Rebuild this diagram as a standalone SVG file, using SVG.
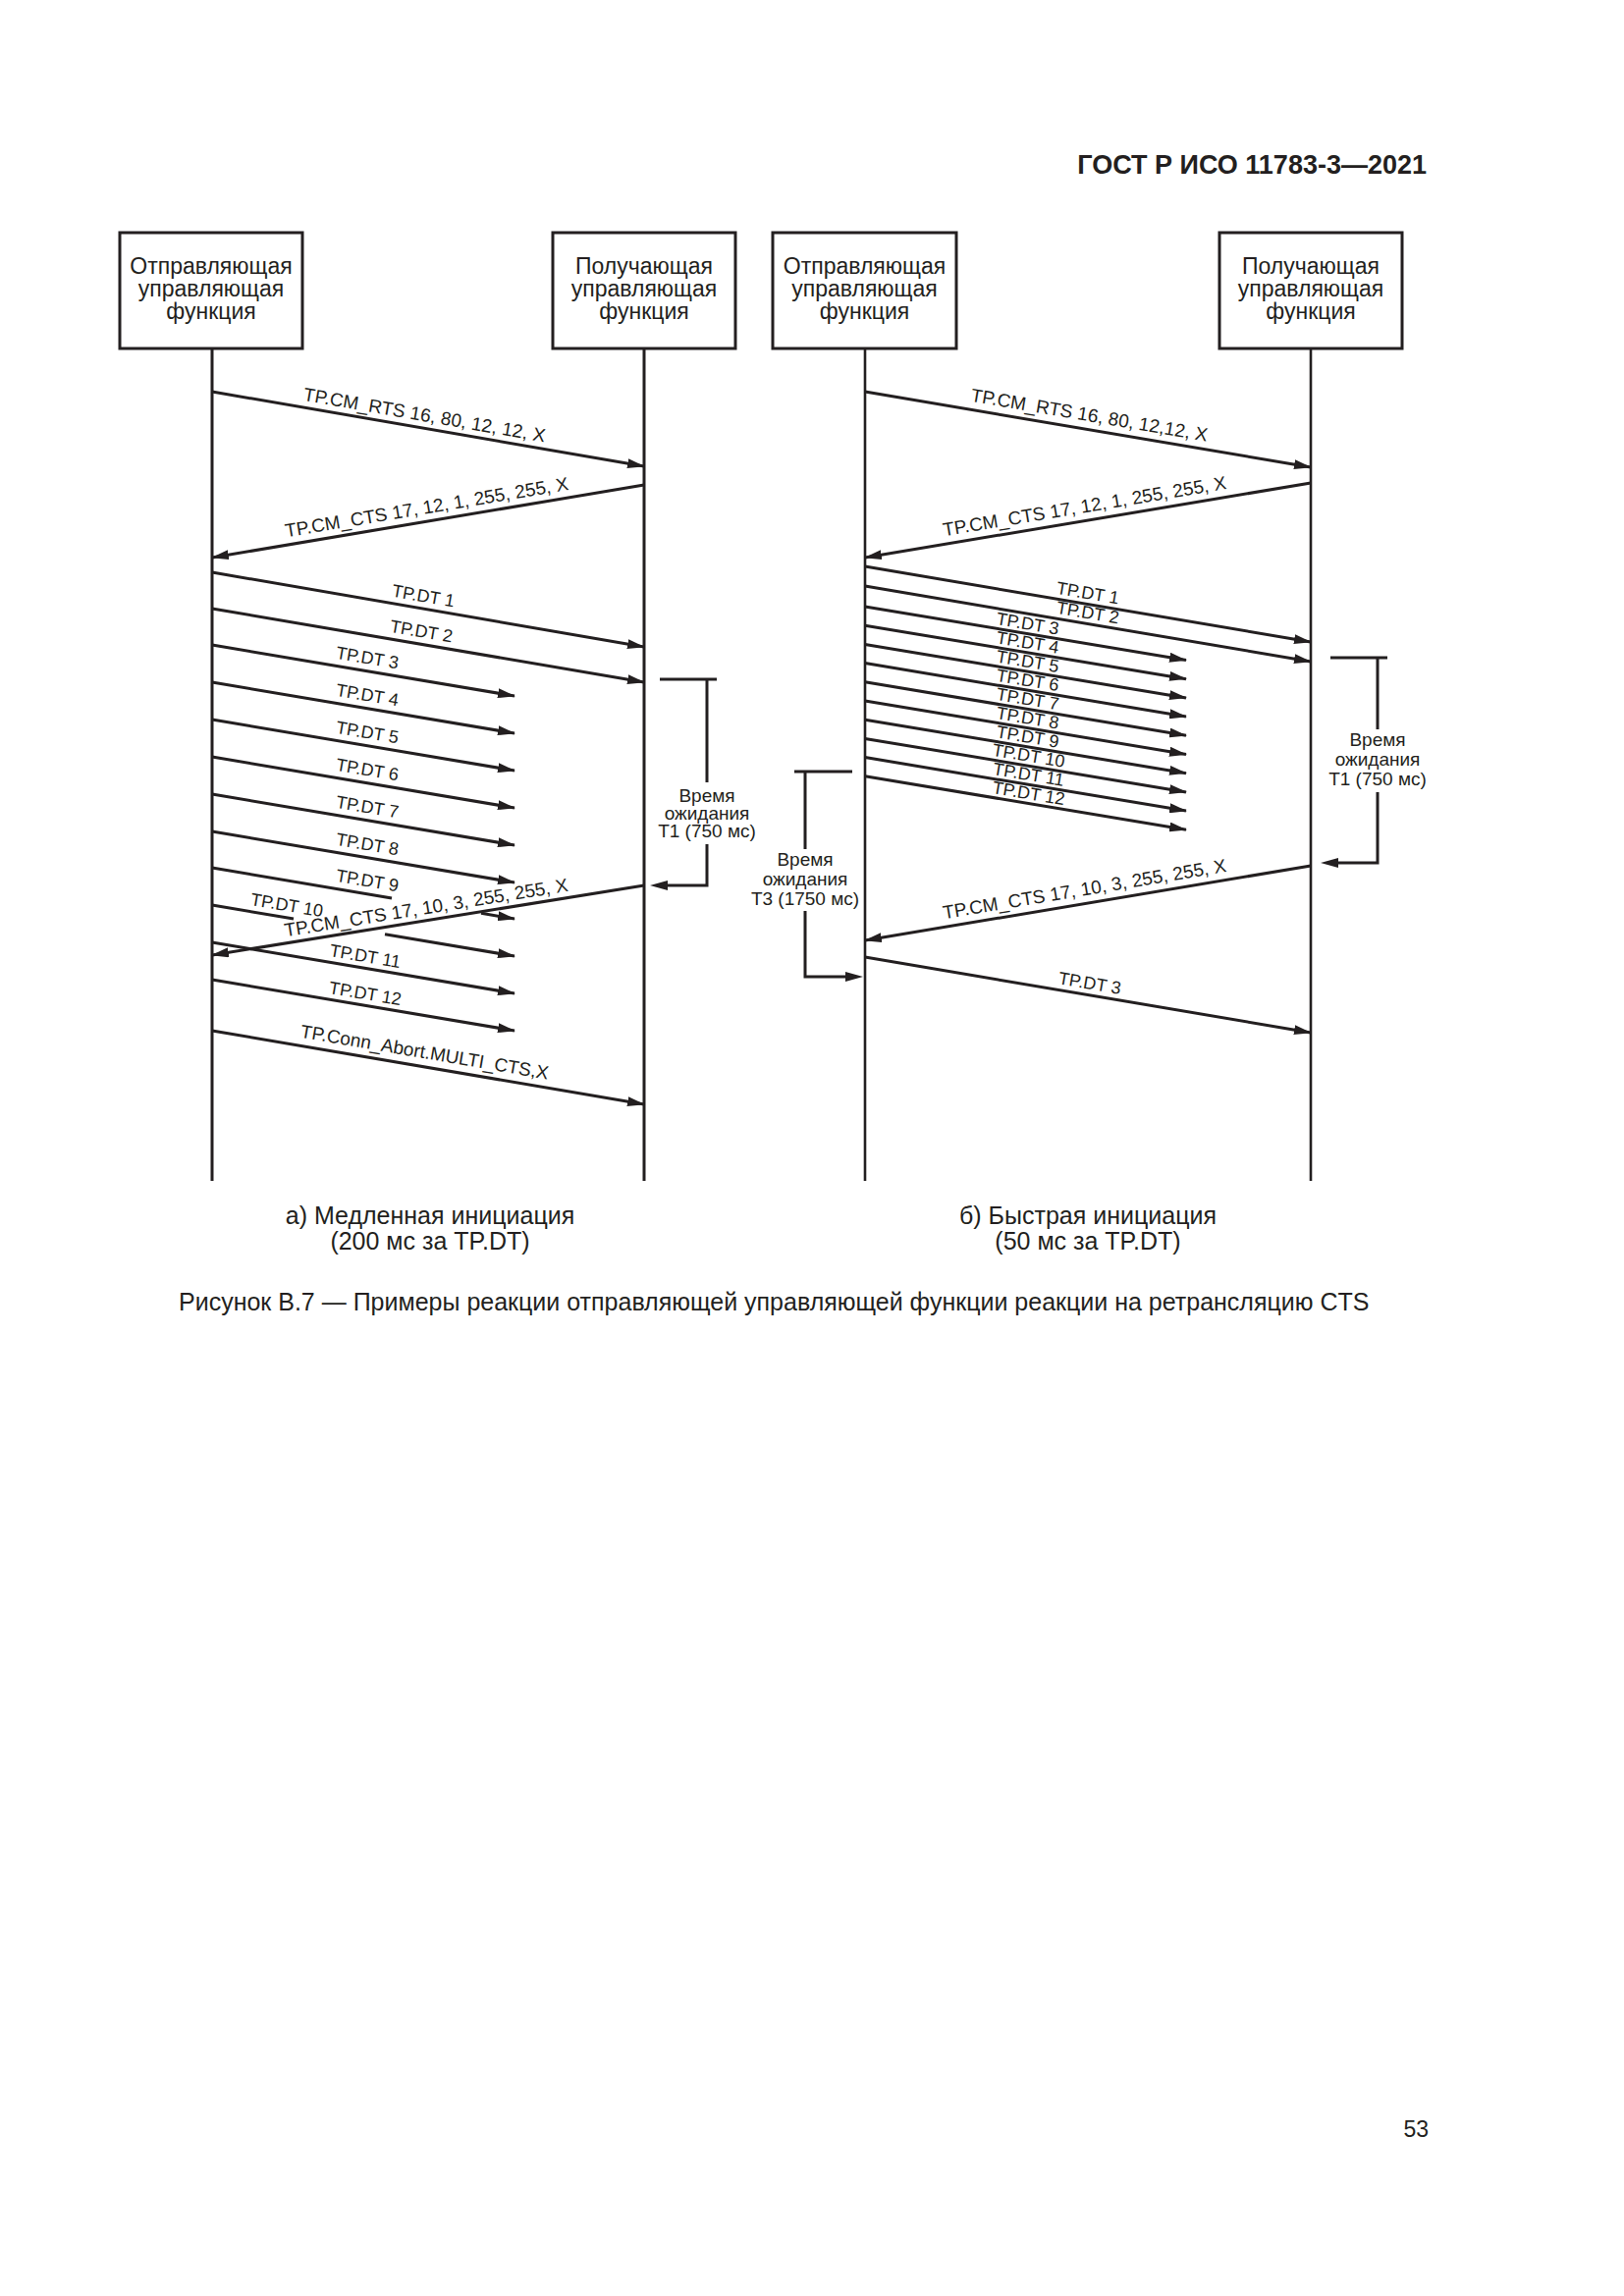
<svg xmlns="http://www.w3.org/2000/svg" width="1654" height="2339" viewBox="0 0 1654 2339">
<style>
.box{fill:#fff;stroke:#231f20;stroke-width:3}
.life{stroke:#231f20;stroke-width:3}
.lifeb{stroke:#231f20;stroke-width:2.6}
.msg{stroke:#231f20;stroke-width:3;fill:none}
.arr{marker-end:url(#ah)}
.br{stroke:#231f20;stroke-width:3;fill:none}
text{font-family:"Liberation Sans",Arial,sans-serif;fill:#231f20}
.nt{font-size:23px;text-anchor:middle}
.lbl{font-size:19px;text-anchor:middle}
.dt{font-size:18px;text-anchor:middle}
.bt{font-size:19px;text-anchor:middle}
.cap{font-size:25px;text-anchor:middle}
</style>
<defs>
<marker id="ah" viewBox="0 0 18 10" refX="17" refY="5" markerWidth="18" markerHeight="10" orient="auto" markerUnits="userSpaceOnUse"><path d="M0,0 L18,5 L0,10 z" fill="#231f20"/></marker>
</defs>
<rect width="1654" height="2339" fill="#fff"/>
<text x="1453" y="177" style="font-size:27px;font-weight:bold;text-anchor:end">ГОСТ Р ИСО 11783-3—2021</text>

<!-- a) slow -->
<g id="slow-sender">
<line class="life" x1="216" y1="355" x2="216" y2="1203"/>
<rect class="box" x="122" y="237" width="186" height="118"/>
<text class="nt" x="215" y="279">Отправляющая</text>
<text class="nt" x="215" y="302">управляющая</text>
<text class="nt" x="215" y="325">функция</text>
</g>
<g id="slow-receiver">
<line class="life" x1="656" y1="355" x2="656" y2="1203"/>
<rect class="box" x="563" y="237" width="186" height="118"/>
<text class="nt" x="656" y="279">Получающая</text>
<text class="nt" x="656" y="302">управляющая</text>
<text class="nt" x="656" y="325">функция</text>
</g>
<g id="slow-t1">
<path class="br" d="M672,692 H730 M720,692 V797 M720,860 V902 H680"/>
<path d="M662,902 L680,897 L680,907 z" fill="#231f20"/>
<text class="bt" x="720" y="817">Время</text>
<text class="bt" x="720" y="835">ожидания</text>
<text class="bt" x="720" y="853">Т1 (750 мс)</text>
</g>
<g id="slow-connectors">
<line class="msg arr" x1="216" y1="399" x2="656" y2="475"/>
<text class="lbl" x="430" y="429" transform="rotate(9.8 430 436)">TP.CM_RTS 16, 80, 12, 12, X</text>
<line class="msg arr" x1="656" y1="494" x2="216" y2="568"/>
<text class="lbl" x="437" y="523" transform="rotate(-9.55 437 531)">TP.CM_CTS 17, 12, 1, 255, 255, X</text>
<line class="msg arr" x1="216" y1="583" x2="656" y2="659"/>
<text class="dt" x="429" y="613" transform="rotate(9.8 429 620)">TP.DT 1</text>
<line class="msg arr" x1="216" y1="620" x2="656" y2="695"/>
<text class="dt" x="427" y="649" transform="rotate(9.67 427 656)">TP.DT 2</text>
<line class="msg arr" x1="216" y1="657" x2="524" y2="709"/>
<text class="dt" x="372" y="676" transform="rotate(9.58 372 683)">TP.DT 3</text>
<line class="msg arr" x1="216" y1="695" x2="524" y2="747"/>
<text class="dt" x="372" y="714" transform="rotate(9.58 372 721)">TP.DT 4</text>
<line class="msg arr" x1="216" y1="733" x2="524" y2="785"/>
<text class="dt" x="372" y="752" transform="rotate(9.58 372 759)">TP.DT 5</text>
<line class="msg arr" x1="216" y1="771" x2="524" y2="823"/>
<text class="dt" x="372" y="790" transform="rotate(9.58 372 797)">TP.DT 6</text>
<line class="msg arr" x1="216" y1="809" x2="524" y2="861"/>
<text class="dt" x="372" y="828" transform="rotate(9.58 372 835)">TP.DT 7</text>
<line class="msg arr" x1="216" y1="847" x2="524" y2="899"/>
<text class="dt" x="372" y="866" transform="rotate(9.58 372 873)">TP.DT 8</text>
<line class="msg" x1="216" y1="884" x2="399" y2="915"/>
<line class="msg arr" x1="490" y1="930.3" x2="524" y2="936"/>
<text class="dt" x="372" y="903" transform="rotate(9.58 372 910)">TP.DT 9</text>
<line class="msg" x1="216" y1="922" x2="299" y2="936"/>
<line class="msg arr" x1="392" y1="951.7" x2="524" y2="974"/>
<text class="dt" x="290" y="928" transform="rotate(9.58 290 934.5)">TP.DT 10</text>
<line class="msg arr" x1="656" y1="902" x2="216" y2="973"/>
<text class="lbl" x="436" y="931" transform="rotate(-9.17 436 937.5)">TP.CM_CTS 17, 10, 3, 255, 255, X</text>
<line class="msg arr" x1="216" y1="960" x2="524" y2="1012"/>
<text class="dt" x="370" y="980" transform="rotate(9.58 370 986)">TP.DT 11</text>
<line class="msg arr" x1="216" y1="998" x2="524" y2="1050"/>
<text class="dt" x="370" y="1018" transform="rotate(9.58 370 1024)">TP.DT 12</text>
<line class="msg arr" x1="216" y1="1050" x2="656" y2="1125"/>
<text class="lbl" x="430" y="1078" transform="rotate(9.67 430 1086.5)">TP.Conn_Abort.MULTI_CTS,X</text>
</g>

<!-- b) fast -->
<g id="fast-sender">
<line class="lifeb" x1="881" y1="355" x2="881" y2="1203"/>
<rect class="box" x="787" y="237" width="187" height="118"/>
<text class="nt" x="880.5" y="279">Отправляющая</text>
<text class="nt" x="880.5" y="302">управляющая</text>
<text class="nt" x="880.5" y="325">функция</text>
</g>
<g id="fast-receiver">
<line class="lifeb" x1="1335" y1="355" x2="1335" y2="1203"/>
<rect class="box" x="1242" y="237" width="186" height="118"/>
<text class="nt" x="1335" y="279">Получающая</text>
<text class="nt" x="1335" y="302">управляющая</text>
<text class="nt" x="1335" y="325">функция</text>
</g>
<g id="fast-t1">
<path class="br" d="M1355,670 H1413 M1403,670 V743 M1403,807 V879 H1362"/>
<path d="M1345,879 L1363,874 L1363,884 z" fill="#231f20"/>
<text class="bt" x="1403" y="760">Время</text>
<text class="bt" x="1403" y="780">ожидания</text>
<text class="bt" x="1403" y="800">Т1 (750 мс)</text>
</g>
<g id="fast-t3">
<path class="br" d="M809,786 H868 M820,786 V865 M820,928 V995 H862"/>
<path d="M879,995 L861,990 L861,1000 z" fill="#231f20"/>
<text class="bt" x="820" y="882">Время</text>
<text class="bt" x="820" y="902">ожидания</text>
<text class="bt" x="820" y="922">Т3 (1750 мс)</text>
</g>
<g id="fast-connectors">
<line class="msg arr" x1="881" y1="399" x2="1335" y2="476"/>
<text class="lbl" x="1107" y="429" transform="rotate(9.63 1107 437.3)">TP.CM_RTS 16, 80, 12,12, X</text>
<line class="msg arr" x1="1335" y1="492" x2="881" y2="568"/>
<text class="lbl" x="1107" y="522" transform="rotate(-9.5 1107 530.2)">TP.CM_CTS 17, 12, 1, 255, 255, X</text>
<line class="msg arr" x1="881" y1="577" x2="1335" y2="654"/>
<text class="dt" x="1106" y="610" transform="rotate(9.63 1106 615.2)">TP.DT 1</text>
<line class="msg arr" x1="881" y1="597" x2="1335" y2="674"/>
<text class="dt" x="1106" y="630" transform="rotate(9.63 1106 635.2)">TP.DT 2</text>
<line class="msg arr" x1="881" y1="618" x2="1208" y2="672.5"/>
<line class="msg arr" x1="881" y1="637.2" x2="1208" y2="691.7"/>
<line class="msg arr" x1="881" y1="656.4" x2="1208" y2="710.9"/>
<line class="msg arr" x1="881" y1="675.6" x2="1208" y2="730.1"/>
<line class="msg arr" x1="881" y1="694.8" x2="1208" y2="749.3"/>
<line class="msg arr" x1="881" y1="714" x2="1208" y2="768.5"/>
<line class="msg arr" x1="881" y1="733.2" x2="1208" y2="787.7"/>
<line class="msg arr" x1="881" y1="752.4" x2="1208" y2="806.9"/>
<line class="msg arr" x1="881" y1="771.6" x2="1208" y2="826.1"/>
<line class="msg arr" x1="881" y1="790.8" x2="1208" y2="845.3"/>
<text class="dt" x="1045" y="641.3" transform="rotate(9.46 1045 645.3)">TP.DT 3</text>
<text class="dt" x="1045" y="660.5" transform="rotate(9.46 1045 664.5)">TP.DT 4</text>
<text class="dt" x="1045" y="679.7" transform="rotate(9.46 1045 683.7)">TP.DT 5</text>
<text class="dt" x="1045" y="698.9" transform="rotate(9.46 1045 702.9)">TP.DT 6</text>
<text class="dt" x="1045" y="718.1" transform="rotate(9.46 1045 722.1)">TP.DT 7</text>
<text class="dt" x="1045" y="737.3" transform="rotate(9.46 1045 741.3)">TP.DT 8</text>
<text class="dt" x="1045" y="756.5" transform="rotate(9.46 1045 760.5)">TP.DT 9</text>
<text class="dt" x="1046" y="775.7" transform="rotate(9.46 1046 779.7)">TP.DT 10</text>
<text class="dt" x="1046" y="794.9" transform="rotate(9.46 1046 798.9)">TP.DT 11</text>
<text class="dt" x="1046" y="814.1" transform="rotate(9.46 1046 818.1)">TP.DT 12</text>
<line class="msg arr" x1="1335" y1="882" x2="881" y2="958"/>
<text class="lbl" x="1107" y="912" transform="rotate(-9.5 1107 920.2)">TP.CM_CTS 17, 10, 3, 255, 255, X</text>
<line class="msg arr" x1="881" y1="975" x2="1335" y2="1052"/>
<text class="dt" x="1108" y="1007.5" transform="rotate(9.63 1108 1013.5)">TP.DT 3</text>
</g>

<text class="cap" x="438" y="1247">а) Медленная инициация</text>
<text class="cap" x="438" y="1273">(200 мс за TP.DT)</text>
<text class="cap" x="1108" y="1247">б) Быстрая инициация</text>
<text class="cap" x="1108" y="1273">(50 мс за TP.DT)</text>
<text x="182" y="1335" style="font-size:25px">Рисунок В.7 — Примеры реакции отправляющей управляющей функции реакции на ретрансляцию CTS</text>
<text x="1455" y="2177" style="font-size:23px;text-anchor:end">53</text>
</svg>
